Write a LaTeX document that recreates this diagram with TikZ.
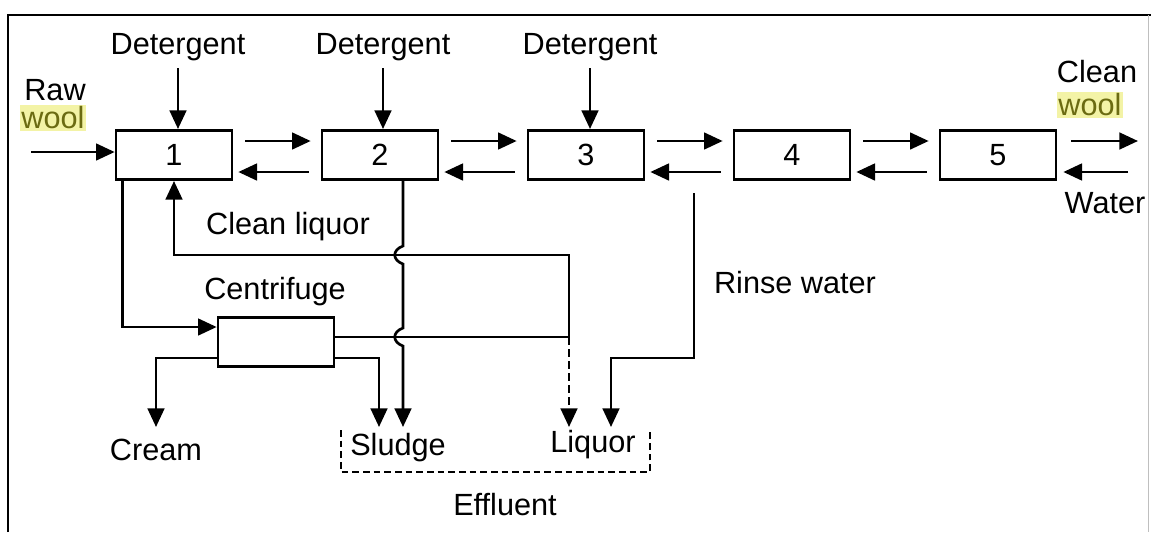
\documentclass[tikz,border=0pt]{standalone}
\usepackage{fontspec}
\setmainfont{Liberation Sans}
\usetikzlibrary{arrows.meta,positioning}
\definecolor{woolfg}{HTML}{6B6B12}
\definecolor{woolbg}{HTML}{F3F3A6}
\newcommand{\lblsize}{\fontsize{23}{25}\selectfont}

\tikzset{
  unit/.style={draw,line width=2pt,minimum width=87pt,minimum height=37pt,inner sep=0pt,font=\lblsize},
  lbl/.style={inner sep=0pt,font=\lblsize},
  woollbl/.style={lbl,fill=woolbg,text=woolfg,inner sep=1pt},
  flow/.style={line width=2pt,-{Triangle[length=14pt,width=12.5pt]}},
  pipe/.style={line width=2pt},
}

\begin{document}
\begin{tikzpicture}[x=0.75pt,y=-0.75pt]
\useasboundingbox (0,0) rectangle (1151,532);
% frame
\draw[line width=2.2pt] (8,532) -- (8,15) -- (1151,15);
\draw[black!25,line width=0.6pt] (1148,15) -- (1148,532);

% washing bowls
\foreach \i/\x in {1/174,2/380,3/586,4/792,5/998}
  \node[unit] (b\i) at (\x,155) {\i};
\foreach \j [remember=\j as \i (initially 1)] in {2,...,5} {
  \draw[flow] ([shift={(12,-14)}]b\i.east) -- ([shift={(-10,-14)}]b\j.west);
  \draw[flow] ([shift={(-12,17)}]b\j.west) -- ([shift={(5,17)}]b\i.east);
}

% detergent feeds
\foreach \i/\x in {1/178,2/383,3/590} {
  \node[lbl] (det\i) at (\x,47) {Detergent};
  \draw[flow] (det\i) ++(0,21) -- (det\i |- b\i.north);
}

% raw wool in
\node[lbl] (raw) at (55,90) {Raw};
\node[woollbl] (rwool) at (53,118) {wool};
\coordinate (rawin) at (31,152);
\draw[flow] (rawin) -- (rawin -| b1.west);

% clean wool out, water in
\node[lbl] (clean) at (1097,72) {Clean};
\node[woollbl] (cwool) at (1090,105) {wool};
\node[lbl] (water) at (1105,203) {Water};
\coordinate (cwout) at (1138,141);
\coordinate (wtin) at (1128,172);
\draw[flow] ([shift={(14,-14)}]b5.east) -- (cwout);
\draw[flow] (wtin) -- ([shift={(6,17)}]b5.east);

% centrifuge
\node[unit] (cf) at (276,342) {};
\node[lbl] (cflbl) at (275,292) {Centrifuge};
\draw[flow] ([shift={(8,0)}]b1.south west) |- ([shift={(0,-15)}]cf.west);

% clean liquor back to bowl 1
\coordinate (split) at (569,337);
\draw[flow] ([shift={(0,-5)}]cf.east) -- (split) -- ++(0,-82) -| (b1.south);
\node[lbl] (cliq) at (288,227) {Clean liquor};

% outlets
\coordinate (crtip) at (156,427);
\coordinate (sl1) at (379,427);
\coordinate (sl2) at (403,427);
\coordinate (liq1) at (569,427);
\coordinate (liq2) at (611,427);
\draw[flow] ([shift={(0,16)}]cf.west) -| (crtip);
\draw[flow] ([shift={(0,16)}]cf.east) -| (sl1);
\draw[flow] ([shift={(23,0)}]b2.south) -- (403,246)
  .. controls (392,250) and (392,260) .. (403,264) -- (403,328)
  .. controls (392,332) and (392,342) .. (403,346) -- (sl2);
\draw[flow,dash pattern=on 6pt off 3pt] (split) -- (liq1);

% rinse water
\coordinate (rinse) at (694,193);
\draw[flow] (rinse) -- ++(0,165) -| (liq2);
\node[lbl] (rinselbl) at (795,283) {Rinse water};

% effluent
\node[lbl] (cream) at (156,450) {Cream};
\node[lbl] (sludge) at (398,448) {Sludge};
\node[lbl] (liquor) at (593,445) {Liquor};
\node[lbl] (effl) at (505,505) {Effluent};
\draw[line width=1.6pt,dash pattern=on 5pt off 3pt] (341,430) -- (341,472) -- (650,472) -- (650,430);
\end{tikzpicture}
\end{document}
